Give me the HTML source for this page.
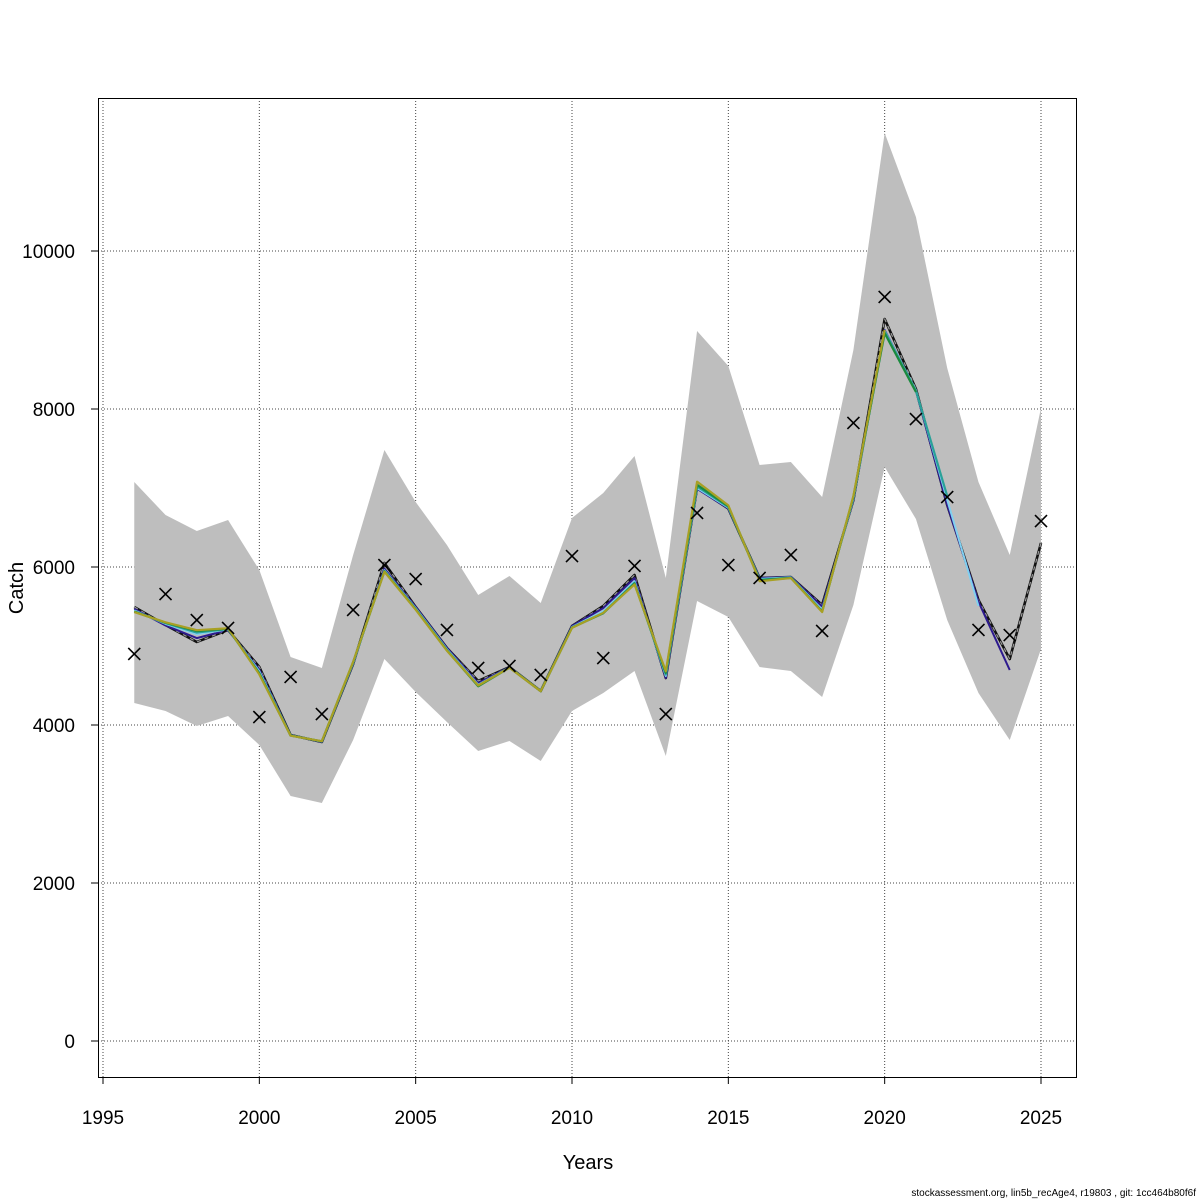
<!DOCTYPE html>
<html><head><meta charset="utf-8"><style>
body{margin:0;background:#fff}
svg{display:block;font-family:"Liberation Sans",sans-serif}
</style></head><body>
<svg id="chart" width="1200" height="1200"></svg>
<script>
const years = [1996,1997,1998,1999,2000,2001,2002,2003,2004,2005,2006,2007,2008,2009,2010,2011,2012,2013,2014,2015,2016,2017,2018,2019,2020,2021,2022,2023,2024,2025];
const upper = [7076,6658,6456,6595,5962,4861,4722,6152,7481,6823,6278,5646,5886,5544,6620,6937,7405,5861,8987,8544,7291,7329,6886,8747,11494,10430,8519,7076,6152,8013];
const lower = [4278,4177,3987,4114,3747,3101,3013,3810,4835,4418,4038,3671,3797,3544,4177,4405,4684,3608,5570,5367,4734,4684,4354,5519,7266,6608,5329,4405,3810,4962];
const observed = [4899,5658,5329,5228,4101,4608,4139,5456,6025,5848,5203,4722,4747,4633,6139,4848,6013,4139,6684,6025,5861,6152,5190,7823,9418,7873,6886,5203,5139,6582];
const fit = [5494,5266,5051,5203,4734,3873,3785,4772,6051,5494,4975,4557,4734,4430,5253,5506,5899,4595,7000,6740,5861,5873,5519,6848,9139,8253,6785,5582,4835,6304];
const peelDarkBlue = [5470,5260,5100,5203,4700,3873,3785,4772,5980,5494,4975,4530,4734,4430,5253,5480,5860,4595,6990,6740,5861,5873,5500,6848,9000,8230,6785,5560,4696];
const peelLightBlue = [5450,5280,5150,5210,4680,3870,3790,4780,5960,5480,4960,4510,4730,4430,5240,5440,5820,4620,7000,6750,5850,5870,5460,6860,8990,8240,6850,5506];
const peelTeal = [5440,5290,5170,5215,4660,3868,3792,4790,5950,5470,4950,4500,4728,4430,5235,5420,5800,4640,7020,6760,5840,5865,5440,6880,8980,8230,6900];
const peelGreen = [5435,5295,5190,5220,4650,3866,3794,4795,5945,5465,4945,4490,4726,4428,5232,5415,5790,4660,7040,6770,5830,5862,5435,6890,8960,8215];
const peelOlive = [5430,5300,5200,5225,4640,3865,3795,4800,5940,5460,4940,4500,4725,4428,5230,5420,5780,4680,7080,6780,5820,5860,5430,6900,9000];
const xTicks = [1995,2000,2005,2010,2015,2020,2025];
const yTicks = [0,2000,4000,6000,8000,10000];

const NS="http://www.w3.org/2000/svg";
const svg=document.getElementById('chart');
const X=y=>103+(y-1995)*(1041-103)/30;
const Y=v=>1041-v*0.079;
function mk(t,a,p){const e=document.createElementNS(NS,t);for(const k in a)e.setAttribute(k,a[k]);(p||svg).appendChild(e);return e;}

xTicks.forEach(t=>{const l=mk('line',{x1:X(t),x2:X(t),y1:98,y2:1077,stroke:'#444','stroke-width':1,'stroke-dasharray':'1,2'});

});
yTicks.forEach(t=>{const l=mk('line',{x1:98,x2:1077,y1:Y(t),y2:Y(t),stroke:'#444','stroke-width':1,'stroke-dasharray':'1,2'});

});

let pts=years.map((y,i)=>X(y)+','+Y(upper[i])).concat(years.slice().reverse().map((y,j)=>X(y)+','+Y(lower[years.length-1-j])));
const band=mk('polygon',{points:pts.join(' '),fill:'#bebebe',stroke:'none'});



function line(vals,color,w,name,dash){
  const p=mk('polyline',{points:vals.map((v,i)=>X(years[i])+','+Y(v)).join(' '),fill:'none',stroke:color,'stroke-width':w,'stroke-linejoin':'round'});
  if(dash)p.setAttribute('stroke-dasharray',dash);
  
  
  return p;
}
line(fit,'#111',2.6,'fit-line');
line(fit,'#9a9a9a',1.2,'fit-line-dashes','4,4');
line(peelDarkBlue,'#2d1a8e',2,'peel-2024-line');
line(peelLightBlue,'#80d0f0',2,'peel-2023-line');
line(peelTeal,'#2aa198',2.2,'peel-2022-line');
line(peelGreen,'#1b8a3e',2.2,'peel-2021-line');
line(peelOlive,'#a8a024',2.2,'peel-2020-line');

observed.forEach((v,i)=>{const g=mk('g',{stroke:'#000','stroke-width':1.6});


const cx=X(years[i]),cy=Y(v),s=6;
mk('line',{x1:cx-s,y1:cy-s,x2:cx+s,y2:cy+s},g);mk('line',{x1:cx-s,y1:cy+s,x2:cx+s,y2:cy-s},g);});

const box=mk('rect',{x:98.5,y:98.5,width:978,height:979,fill:'none',stroke:'#000','stroke-width':1});



xTicks.forEach(t=>{mk('line',{x1:X(t),x2:X(t),y1:1077,y2:1084,stroke:'#000'});
const tx=mk('text',{x:X(t),y:1124,'text-anchor':'middle','font-size':19});tx.textContent=t;

});
mk('line',{x1:98.5,x2:98.5,y1:Y(0),y2:Y(10000),stroke:'#000'});
yTicks.forEach(t=>{mk('line',{x1:91,x2:98,y1:Y(t),y2:Y(t),stroke:'#000'});
const tx=mk('text',{x:75,y:Y(t)+7,'text-anchor':'end','font-size':19});tx.textContent=t;

});

const xt=mk('text',{x:588,y:1169,'text-anchor':'middle','font-size':20});xt.textContent='Years';


const yt=mk('text',{x:23,y:588,'text-anchor':'middle','font-size':20,transform:'rotate(-90 23 588)'});yt.textContent='Catch';


const ft=mk('text',{x:1196,y:1196,'text-anchor':'end','font-size':10});ft.textContent='stockassessment.org, lin5b_recAge4, r19803 , git: 1cc464b80f6f';


</script>
</body></html>
